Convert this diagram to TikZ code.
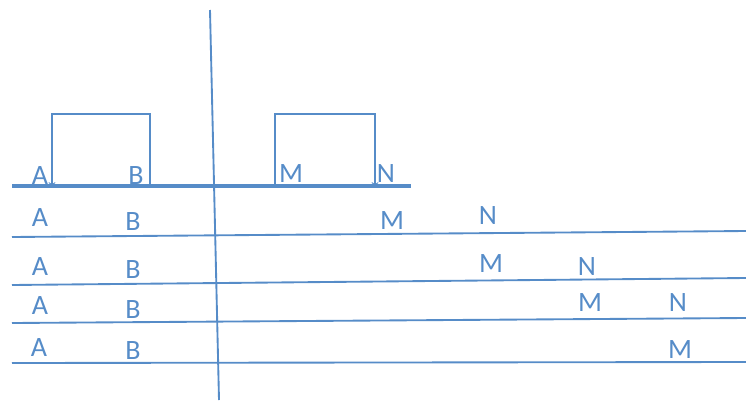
\documentclass[tikz,border=0pt]{standalone}
\usepackage{fontspec}
\setmainfont{Carlito}
\usetikzlibrary{calc, positioning}

\definecolor{slideblue}{RGB}{86,140,200}

\begin{document}
\begin{tikzpicture}[x=0.75pt, y=-0.75pt,
    lbl/.style={text=slideblue, font=\fontsize{21}{22}\selectfont, inner sep=0pt},
    track/.style={draw=slideblue, line width=1.4pt},
    loopline/.style={draw=slideblue, line width=0.9pt}]

  \useasboundingbox (0,0) rectangle (746,400);

  % divider
  \coordinate (top) at (210,10);
  \coordinate (bot) at (219,400);
  \draw[track] (top) -- (bot);

  % starting position
  \coordinate (s0) at (12,186);
  \coordinate (e0) at (411,186);
  \draw[draw=slideblue, line width=2.6pt] (s0) -- (e0);

  \draw(40,176) node[lbl] (A0) {A};
  \draw(136,176) node[lbl] (B0) {B};
  \draw(291,174) node[lbl] (M0) {M};
  \draw(386,174) node[lbl] (N0) {N};

  \coordinate (b0) at (150,186);
  \coordinate (a0) at (52,186);
  \draw[loopline, ->] (b0) -- ++(0,-72) -| (a0);

  \coordinate (m0) at (275,186);
  \coordinate (n0) at (375,186);
  \draw[loopline, ->] (m0) -- ++(0,-72) -| (n0);

  % later positions
  \coordinate (s1) at (12,237);   \coordinate (e1) at (746,231);
  \coordinate (s2) at (12,285);   \coordinate (e2) at (746,278);
  \coordinate (s3) at (12,323);   \coordinate (e3) at (746,318);
  \coordinate (s4) at (12,363);   \coordinate (e4) at (746,362);
  \foreach \i in {1,...,4}
    \draw[track] (s\i) -- (e\i);

  \draw(40,218) node[lbl] (A1) {A};
  \draw(133,222) node[lbl] (B1) {B};
  \draw(392,221) node[lbl] (M1) {M};
  \draw(488,216) node[lbl] (N1) {N};

  \draw(40,267) node[lbl] (A2) {A};
  \draw(133,270) node[lbl] (B2) {B};
  \draw(491,264) node[lbl] (M2) {M};
  \draw(587,267) node[lbl] (N2) {N};

  \draw(40,306) node[lbl] (A3) {A};
  \draw(133,310) node[lbl] (B3) {B};
  \draw(590,303) node[lbl] (M3) {M};
  \draw(678,303) node[lbl] (N3) {N};

  \draw(39,348) node[lbl] (A4) {A};
  \draw(133,351) node[lbl] (B4) {B};
  \draw(680,350) node[lbl] (M4) {M};

\end{tikzpicture}
\end{document}
